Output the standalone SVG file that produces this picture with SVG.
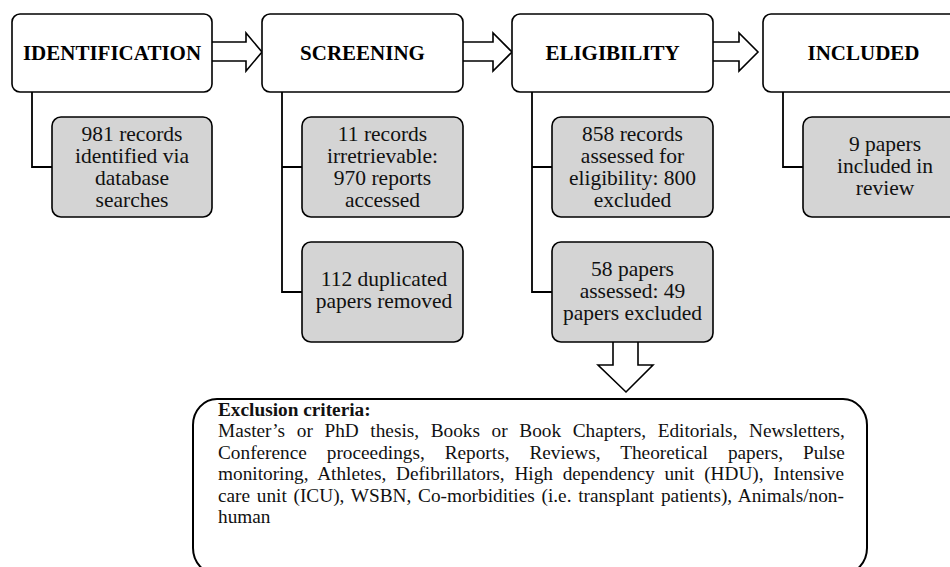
<svg xmlns="http://www.w3.org/2000/svg" width="950" height="567" viewBox="0 0 950 567">
<style>
.hdr{fill:#fff;stroke:#000;stroke-width:1.6}
.gray{fill:#d4d4d4;stroke:#000;stroke-width:1.6}
.ht{font-family:"Liberation Serif","Times New Roman",serif;font-weight:bold;font-size:21px;text-anchor:middle;fill:#000}
.gt{font-family:"Liberation Serif","Times New Roman",serif;font-size:21.5px;text-anchor:middle;fill:#111}
.et{font-family:"Liberation Serif","Times New Roman",serif;font-size:19.3px;fill:#111}
.con{fill:none;stroke:#000;stroke-width:1.8}
.arr{fill:#fff;stroke:#000;stroke-width:1.6;stroke-linejoin:miter}
</style>
<rect width="950" height="567" fill="#fff"/>
<g id="connectors">
<path class="con" d="M32,92 V167 H52"/>
<path class="con" d="M282,92 V292 H302 M282,167 H302"/>
<path class="con" d="M532,92 V292 H552 M532,167 H552"/>
<path class="con" d="M783,92 V167 H803"/>
<path class="arr" d="M212,42 H246 V33 L262,52 L246,71 V61 H212"/>
<path class="arr" d="M463,42 H493 V33 L512,52 L493,71 V61 H463"/>
<path class="arr" d="M713,42 H739 V33 L758,52 L739,71 V61 H713"/>
<path class="arr" d="M613,342 V365 H598 L626,392 L653,365 H638 V342"/>
</g>
<g id="identification">
<rect class="hdr" x="12" y="14" width="200" height="78" rx="8"/>
<text class="ht" x="112" y="60">IDENTIFICATION</text>
</g>
<g id="screening">
<rect class="hdr" x="262" y="14" width="201" height="78" rx="8"/>
<text class="ht" x="362.5" y="60">SCREENING</text>
</g>
<g id="eligibility">
<rect class="hdr" x="512" y="14" width="201" height="78" rx="8"/>
<text class="ht" x="612.5" y="60">ELIGIBILITY</text>
</g>
<g id="included">
<rect class="hdr" x="763" y="14" width="201" height="78" rx="8"/>
<text class="ht" x="863.5" y="60">INCLUDED</text>
</g>
<g id="records-identified">
<rect class="gray" x="52" y="117" width="160" height="100" rx="9"/>
<text class="gt" x="132" y="141">981 records</text>
<text class="gt" x="132" y="163">identified via</text>
<text class="gt" x="132" y="185">database</text>
<text class="gt" x="132" y="207">searches</text>
</g>
<g id="records-irretrievable">
<rect class="gray" x="302" y="117" width="161" height="100" rx="9"/>
<text class="gt" x="382.5" y="141">11 records</text>
<text class="gt" x="382.5" y="163">irretrievable:</text>
<text class="gt" x="382.5" y="185">970 reports</text>
<text class="gt" x="382.5" y="207">accessed</text>
</g>
<g id="duplicates-removed">
<rect class="gray" x="302" y="242" width="161" height="100" rx="9"/>
<text class="gt" x="384" y="286">112 duplicated</text>
<text class="gt" x="384" y="308">papers removed</text>
</g>
<g id="records-assessed">
<rect class="gray" x="552" y="117" width="161" height="100" rx="9"/>
<text class="gt" x="632.5" y="141">858 records</text>
<text class="gt" x="632.5" y="163">assessed for</text>
<text class="gt" x="632.5" y="185">eligibility: 800</text>
<text class="gt" x="632.5" y="207">excluded</text>
</g>
<g id="papers-assessed">
<rect class="gray" x="552" y="242" width="161" height="100" rx="9"/>
<text class="gt" x="632.5" y="276">58 papers</text>
<text class="gt" x="632.5" y="298">assessed: 49</text>
<text class="gt" x="632.5" y="320">papers excluded</text>
</g>
<g id="papers-included">
<rect class="gray" x="803" y="117" width="161" height="100" rx="9"/>
<text class="gt" x="885" y="151">9 papers</text>
<text class="gt" x="885" y="173">included in</text>
<text class="gt" x="885" y="195">review</text>
</g>
<g id="exclusion-criteria">
<rect x="193" y="399" width="674" height="175" rx="24" ry="26" fill="#fff" stroke="#000" stroke-width="2"/>
<text class="et" x="218" y="415.5" font-weight="bold">Exclusion criteria:</text>
<text class="et" x="218" y="437" word-spacing="6.8">Master’s or PhD thesis, Books or Book Chapters, Editorials, Newsletters,</text>
<text class="et" x="218" y="458.5" word-spacing="15.1">Conference proceedings, Reports, Reviews, Theoretical papers, Pulse</text>
<text class="et" x="218" y="480" word-spacing="4.9">monitoring, Athletes, Defibrillators, High dependency unit (HDU), Intensive</text>
<text class="et" x="218" y="501.5" word-spacing="1.9">care unit (ICU), WSBN, Co-morbidities (i.e. transplant patients), Animals/non-</text>
<text class="et" x="218" y="523">human</text>
</g>
</svg>
